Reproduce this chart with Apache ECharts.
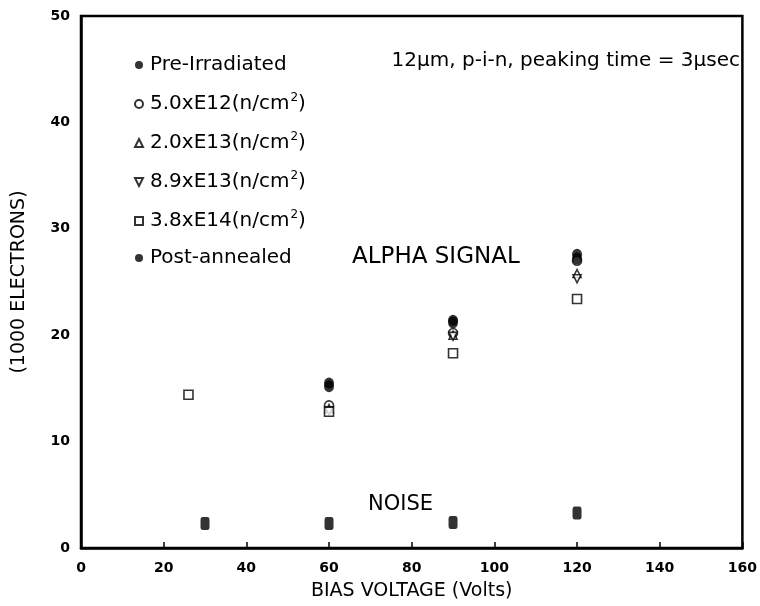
<!DOCTYPE html>
<html>
<head>
<meta charset="utf-8">
<script src="https://cdn.jsdelivr.net/npm/echarts@6/dist/echarts.min.js"></script>
<style>html,body{margin:0;padding:0;background:#fff}#c{width:760px;height:606px}</style>
</head>
<body>
<div id="c"></div>
<script>
// ---- data ----
var xTicks = [0, 20, 40, 60, 80, 100, 120, 140, 160];
var yTicks = [0, 10, 20, 30, 40, 50];
var seriesNames = ['Pre-Irradiated', '5.0xE12(n/cm²)', '2.0xE13(n/cm²)', '8.9xE13(n/cm²)', '3.8xE14(n/cm²)', 'Post-annealed'];
var preIrradiated = [[60, 15.5], [90, 21.4], [120, 27.6]];
var flu5e12 = [[60, 13.4], [90, 20.2], [120, 27.0]];
var flu2e13 = [[60, 13.1], [90, 20.0], [120, 25.8]];
var flu89e13 = [[60, 12.9], [90, 19.9], [120, 25.3]];
var flu38e14 = [[26, 14.4], [60, 12.8], [90, 18.3], [120, 23.4]];
var postAnnealed = [[60, 15.2], [90, 21.2], [120, 27.2]];
var noise = [[30, 2.3], [60, 2.3], [90, 2.4], [120, 3.3]];
var annotation = '12μm, p-i-n, peaking time = 3μsec';

var FONT = '"DejaVu Sans", sans-serif';
var chart = echarts.init(document.getElementById('c'), null, {renderer: 'canvas'});

function sc(name, data, symbol, size, filled) {
  return {
    name: name, type: 'scatter', data: data, symbol: symbol, symbolSize: size,
    itemStyle: filled ? {color: '#000'} : {color: '#fff', borderColor: '#000', borderWidth: 1.6},
    emphasis: {disabled: true}, z: 3
  };
}

var option = {
  backgroundColor: '#fff',
  animation: false,
  grid: {left: 81, right: 8, top: 16, bottom: 56, show: true, borderColor: '#000', borderWidth: 2.5, backgroundColor: 'transparent'},
  legend: {
    data: seriesNames, orient: 'vertical', left: 129, top: 50, itemGap: 17,
    itemWidth: 8, itemHeight: 8,
    formatter: function (name) {
      var m = name.match(/^(.*)\(n\/cm²\)$/);
      if (m) return '{a|' + m[1] + '(n/cm}{s|2}{a|)}';
      return '{a|' + name + '}';
    },
    textStyle: {
      fontFamily: FONT, fontSize: 20, color: '#000', padding: [0, 0, 0, 2],
      rich: {
        a: {fontFamily: FONT, fontSize: 20, lineHeight: 24, color: '#000'},
        s: {fontFamily: FONT, fontSize: 12, lineHeight: 24, verticalAlign: 'top', color: '#000', padding: [0, 0, 0, 1]}
      }
    },
    selectedMode: false
  },
  xAxis: {
    type: 'value', min: 0, max: 160, interval: 20,
    name: 'BIAS VOLTAGE (Volts)', nameLocation: 'middle', nameGap: 34,
    nameTextStyle: {fontFamily: FONT, fontSize: 19, color: '#000'},
    axisLine: {show: true, lineStyle: {color: '#000', width: 2.5}},
    axisTick: {show: true, inside: true, length: 6, lineStyle: {color: '#000', width: 1.5}},
    axisLabel: {fontFamily: FONT, fontWeight: 'bold', fontSize: 14, color: '#000', margin: 13,
      formatter: function (v) { return xTicks.indexOf(v) >= 0 ? String(v) : ''; }},
    splitLine: {show: false}
  },
  yAxis: {
    type: 'value', min: 0, max: 50, interval: 10,
    name: '(1000 ELECTRONS)', nameLocation: 'middle', nameGap: 52,
    nameTextStyle: {fontFamily: FONT, fontSize: 19, color: '#000'},
    axisLine: {show: true, lineStyle: {color: '#000', width: 2.5}},
    axisTick: {show: false},
    axisLabel: {fontFamily: FONT, fontWeight: 'bold', fontSize: 14, color: '#000', margin: 11,
      formatter: function (v) { return yTicks.indexOf(v) >= 0 ? String(v) : ''; }},
    splitLine: {show: false}
  },
  graphic: [
    {type: 'text', right: 20, top: 51, style: {text: annotation, fontFamily: FONT, fontSize: 20, fill: '#000'}},
    {type: 'text', left: 352, top: 246, style: {text: 'ALPHA SIGNAL', fontFamily: FONT, fontSize: 23, fill: '#000'}},
    {type: 'text', left: 368, top: 494, style: {text: 'NOISE', fontFamily: FONT, fontSize: 21, fill: '#000'}}
  ],
  series: [
    sc(seriesNames[0], preIrradiated, 'circle', [10, 11], true),
    sc(seriesNames[1], flu5e12, 'circle', 9, false),
    sc(seriesNames[2], flu2e13, 'triangle', 8, false),
    sc(seriesNames[3], flu89e13, 'path://M0,0L10,0L5,10Z', 8, false),
    sc(seriesNames[4], flu38e14, 'rect', 9, false),
    sc(seriesNames[5], postAnnealed, 'circle', [10, 12], true),
    sc('Noise', noise, 'roundRect', [9, 13], true)
  ]
};
chart.setOption(option);
</script>
</body>
</html>
